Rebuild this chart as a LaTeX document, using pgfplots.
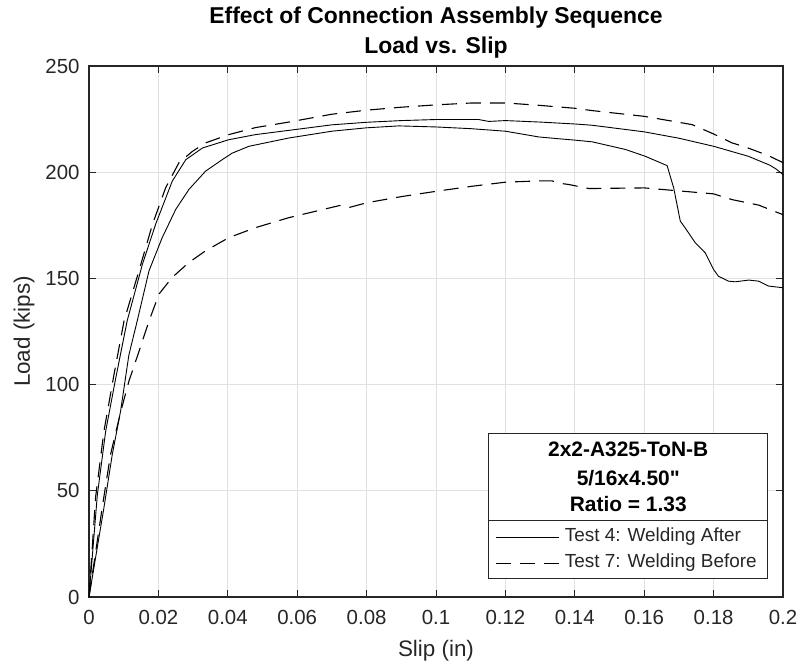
\documentclass[border=0pt]{standalone}
\usepackage{fontspec}
\setmainfont{Liberation Sans}
\setmonofont{Liberation Sans}
\usepackage{pgfplots}
\pgfplotsset{compat=1.18}
\definecolor{axgray}{RGB}{38,38,38}
\definecolor{gridgray}{RGB}{225,225,225}
\begin{document}
\begin{tikzpicture}
\begin{axis}[name=ax, scale only axis, width=694bp, height=531bp,
  xmin=0, xmax=0.2, ymin=0, ymax=250,
  xtick={0,0.02,0.04,0.06,0.08,0.1,0.12,0.14,0.16,0.18,0.2},
  xticklabels={0,0.02,0.04,0.06,0.08,0.1,0.12,0.14,0.16,0.18,0.2},
  ytick={0,50,100,150,200,250},
  yticklabels={0,50,100,150,200,250},
  tick label style={font=\fontsize{20.5}{22}\selectfont, text=axgray},
  xticklabel style={yshift=-10bp},
  yticklabel style={xshift=-6bp},
  axis line style={axgray, line width=1.1bp},
  grid=major, major grid style={gridgray, line width=0.8bp},
  tick style={axgray, line width=1bp},
  major tick length=7bp,
  tick align=inside,
  xlabel={Slip (in)}, ylabel={Load (kips)},
  label style={font=\fontsize{22.5}{24}\selectfont, text=axgray},
  xlabel shift=8bp, ylabel shift=4bp,
  title={Effect of Connection Assembly Sequence\\Load vs. Slip},
  title style={font=\bfseries\fontsize{23}{30}\selectfont, align=center, text=black, yshift=-2bp},
  legend image code/.code={\draw[#1] (0bp,0bp) -- (63bp,0bp);},
  legend style={at={(axis cs:0.1153,36.25)}, anchor=north west, draw=none, fill=none,
    font=\fontsize{19}{21}\selectfont, text=axgray, inner xsep=6.5bp, inner ysep=4bp,
    row sep=0bp,
    nodes={text height=14bp, text depth=4.5bp, inner ysep=3.75bp, inner xsep=5bp}},
  legend cell align=left,
]
\node[draw=axgray, line width=0.9bp, fill=white, anchor=north west, minimum width=279bp, minimum height=145bp, inner sep=0pt] (lg) at (axis cs:0.11507,77.07) {};
\draw[axgray, line width=0.9bp] ([yshift=-86.7bp]lg.north west) -- ([yshift=-86.7bp]lg.north east);
\node[anchor=base, font=\bfseries\fontsize{21}{22}\selectfont, inner sep=0pt] at ([yshift=-23.4bp]lg.north) {2x2-A325-ToN-B};
\node[anchor=base, font=\bfseries\fontsize{21}{22}\selectfont, inner sep=0pt] at ([yshift=-51.7bp]lg.north) {5/16x4.50{\ttfamily\bfseries "}};
\node[anchor=base, font=\bfseries\fontsize{21}{22}\selectfont, inner sep=0pt] at ([yshift=-78.4bp]lg.north) {Ratio = 1.33};

\addplot[black, line width=0.9bp] coordinates {
(0,0) (0.0024,48) (0.0048,78) (0.0077,103) (0.011,130) (0.0154,156.7) (0.0192,175.5)
(0.024,195.8) (0.0279,205.9) (0.0327,211.4) (0.0403,215.3) (0.048,217.7) (0.0576,219.7)
(0.07,222.3) (0.08,223.5) (0.09,224.3) (0.1,224.8) (0.1123,224.8)
(0.1152,223.9) (0.12,224.3) (0.13,223.6) (0.14,222.7) (0.145,222.1) (0.16,219) (0.17,216)
(0.18,212.2) (0.19,207.5) (0.1962,203.3) (0.198,201.5) (0.2,198.9)
};
\addlegendentry{Test 4: Welding After}
\addplot[black, line width=0.9bp, forget plot] coordinates {
(0,0) (0.0043,42) (0.0067,67) (0.0091,87.5) (0.0115,114) (0.0139,130) (0.0173,153.6)
(0.0211,169.2) (0.025,182.5) (0.0288,191.9) (0.0336,200.5) (0.0384,205.9) (0.0413,209)
(0.0461,212.2) (0.0576,216.1) (0.07,219.3) (0.08,220.9) (0.0893,221.8) (0.1,221.3) (0.11,220.5) (0.12,219.3)
(0.1296,216.6) (0.135,215.8) (0.14,215.1) (0.145,214.3) (0.1546,210.7) (0.1603,207.5)
(0.1666,203.1) (0.1685,192.6) (0.1704,177) (0.1718,173.8) (0.1747,166.8) (0.1776,162)
(0.18,154.2) (0.1814,151) (0.1843,148.7) (0.1862,148.4) (0.1901,149.2) (0.193,148.7)
(0.1958,146.4) (0.2,145.6)
};
\addplot[black, line width=1.1bp, dash pattern=on 15bp off 9bp] coordinates {
(0,0) (0.0019,47) (0.0043,78) (0.0072,104.7) (0.0101,130) (0.0144,153.6) (0.0183,175.5)
(0.0221,192.7) (0.0259,204.4) (0.0298,209.8) (0.0336,213.8) (0.0403,217.7) (0.048,221)
(0.0576,223.6) (0.07,227.3) (0.08,229.2) (0.09,230.6) (0.1,231.7) (0.1104,232.6) (0.12,232.6) (0.1296,231.5)
(0.14,230.1) (0.145,229) (0.16,226.3) (0.1738,222.4) (0.18,218) (0.1853,213.8) (0.1891,211.9)
(0.1958,207.8) (0.2,204.5)
};
\addlegendentry{Test 7: Welding Before}
\addplot[black, line width=1.1bp, dash pattern=on 15bp off 9bp, forget plot] coordinates {
(0,0) (0.0038,42) (0.0062,67) (0.0091,87) (0.0115,101.6) (0.0144,115.6) (0.0173,130)
(0.0202,142.7) (0.024,150.5) (0.0288,157.5) (0.0336,163) (0.0403,169.2) (0.048,173.9)
(0.0576,178.6) (0.0722,184.3)
(0.075,183.4) (0.08,185.6) (0.09,188.5) (0.1,191) (0.11,193.3) (0.12,195.3) (0.1296,195.9)
(0.1334,195.9) (0.1365,194.6) (0.1383,194.2) (0.144,192.3) (0.16,192.6) (0.18,189.8)
(0.1853,187.1) (0.193,184.5) (0.2,180)
};
\end{axis}
\path (ax.south west) ++(-89bp,-68bp) coordinate (bl);
\path (ax.north east) ++(18bp,66bp) coordinate (tr);
\pgfresetboundingbox
\path[use as bounding box] (bl) rectangle (tr);
\end{tikzpicture}
\end{document}
